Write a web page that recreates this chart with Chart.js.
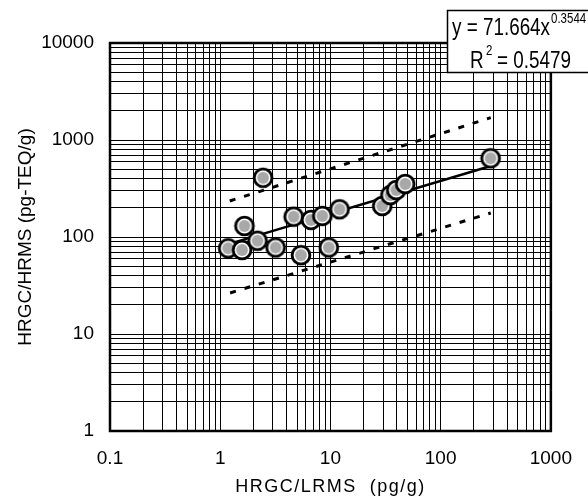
<!DOCTYPE html>
<html>
<head>
<meta charset="utf-8">
<script src="https://cdn.jsdelivr.net/npm/chart.js@4.4.0/dist/chart.umd.min.js"></script>
<style>
  html, body { margin: 0; padding: 0; background: #fff; }
</style>
</head>
<body>
<canvas id="chart" width="588" height="500"></canvas>
<script>
const xTickLabels = [0.1, 1, 10, 100, 1000];
const yTickLabels = [1, 10, 100, 1000, 10000];

// HRGC/LRMS (x) vs HRGC/HRMS (y)
const lrmsValues = [1.18, 1.58, 1.66, 2.18, 2.45, 3.18, 4.64, 5.4, 6.67, 8.44, 9.66, 12.1, 29.5, 35, 39.6, 47.7, 284];
const hrmsValues = [76.5, 73.5, 130, 91.6, 408, 78, 162, 65, 150, 165, 78, 193, 209, 271, 305, 352, 648];

// fit line and dotted band, end points
const fitX = [1.05, 285];
const fitY = [81, 540];
const upperX = [1.22, 285];
const upperY = [235, 1700];
const lowerX = [1.23, 285];
const lowerY = [26.5, 177];

const xTitle = 'HRGC/LRMS  (pg/g)';
const yTitle = 'HRGC/HRMS (pg-TEQ/g)';
const eqMain = 'y = 71.664x';
const eqExp = '0.3544';
const r2Value = '= 0.5479';

const FONT = '"Liberation Sans", Arial, sans-serif';

const toPoints = (xs, ys) => xs.map((x, i) => ({ x, y: ys[i] }));

// all 1..9 lines of every decade, for the log-paper grid
const gridValues = (decades) => {
  const out = [];
  decades.forEach((d, i) => {
    if (i === decades.length - 1) { out.push(d); return; }
    for (let m = 1; m <= 9; m++) out.push(parseFloat((d * m).toPrecision(6)));
  });
  return out;
};

const makeMarker = () => {
  const c = document.createElement('canvas');
  c.width = 24; c.height = 24;
  const g = c.getContext('2d');
  g.beginPath();
  g.arc(12, 12, 8.9, 0, Math.PI * 2);
  g.fillStyle = '#fff';
  g.fill();
  g.lineWidth = 2.9;
  g.strokeStyle = '#000';
  g.stroke();
  g.beginPath();
  g.arc(12, 12, 5.9, 0, Math.PI * 2);
  g.fillStyle = '#a8a8a8';
  g.fill();
  return c;
};

const drawNarrow = (ctx, text, x, y, size) => {
  ctx.save();
  ctx.translate(x, y);
  ctx.scale(0.82, 1);
  ctx.font = `${size}px ${FONT}`;
  ctx.fillText(text, 0, 0);
  const w = ctx.measureText(text).width * 0.82;
  ctx.restore();
  return w;
};

const decorations = {
  id: 'decorations',
  afterDatasetsDraw(chart) {
    const { ctx, chartArea: a } = chart;
    ctx.save();
    ctx.strokeStyle = '#000';
    ctx.lineWidth = 2.5;
    ctx.strokeRect(a.left, a.top, a.right - a.left, a.bottom - a.top);
    ctx.restore();
  },
  afterDraw(chart) {
    const { ctx, chartArea: a } = chart;
    ctx.save();
    ctx.fillStyle = '#000';
    ctx.textBaseline = 'middle';
    ctx.textAlign = 'center';
    ctx.font = `18px ${FONT}`;
    ctx.letterSpacing = '1.5px';
    ctx.fillText(xTitle, (a.left + a.right) / 2, 487);
    ctx.letterSpacing = '0px';

    // equation box
    ctx.fillStyle = '#fff';
    ctx.fillRect(447, 10, 150, 63);
    ctx.strokeStyle = '#000';
    ctx.lineWidth = 1.5;
    ctx.strokeRect(447.5, 10.5, 150, 62);
    ctx.fillStyle = '#000';
    ctx.textAlign = 'left';
    ctx.textBaseline = 'alphabetic';
    const w = drawNarrow(ctx, eqMain, 452, 35, 23);
    drawNarrow(ctx, eqExp, 452 + w + 1, 23, 14);
    drawNarrow(ctx, 'R', 470, 68, 23);
    drawNarrow(ctx, '2', 486, 55, 14);
    drawNarrow(ctx, r2Value, 497, 68, 23);
    ctx.restore();
  }
};

new Chart(document.getElementById('chart'), {
  type: 'scatter',
  data: {
    datasets: [
      {
        data: toPoints(lrmsValues, hrmsValues),
        pointStyle: makeMarker(),
        pointRadius: 12,
        order: 0
      },
      {
        data: toPoints(fitX, fitY),
        showLine: true,
        borderColor: '#000',
        borderWidth: 2.5,
        pointRadius: 0,
        order: 1
      },
      {
        data: toPoints(upperX, upperY),
        showLine: true,
        borderColor: '#000',
        borderWidth: 3,
        borderDash: [6, 9],
        pointRadius: 0,
        order: 1
      },
      {
        data: toPoints(lowerX, lowerY),
        showLine: true,
        borderColor: '#000',
        borderWidth: 3,
        borderDash: [6, 9],
        pointRadius: 0,
        order: 1
      }
    ]
  },
  options: {
    responsive: false,
    animation: false,
    layout: { padding: { top: 43, right: 30, left: 0, bottom: 0 } },
    plugins: { legend: { display: false }, tooltip: { enabled: false } },
    scales: {
      x: {
        type: 'logarithmic',
        min: 0.1,
        max: 1000,
        afterBuildTicks: s => { s.ticks = gridValues(xTickLabels).map(v => ({ value: v })); },
        afterFit: s => { s.height = 69; },
        grid: { color: '#000', lineWidth: 1, drawTicks: false },
        border: { display: false },
        ticks: {
          autoSkip: false,
          maxRotation: 0,
          padding: 16,
          color: '#000',
          font: { family: FONT, size: 19 },
          callback: v => xTickLabels.includes(v) ? String(v) : ''
        }
      },
      y: {
        type: 'logarithmic',
        min: 1,
        max: 10000,
        afterBuildTicks: s => { s.ticks = gridValues(yTickLabels).map(v => ({ value: v })); },
        afterFit: s => { s.width = 110; },
        grid: { color: '#000', lineWidth: 1, drawTicks: false },
        border: { display: false },
        ticks: {
          autoSkip: false,
          padding: 16,
          color: '#000',
          font: { family: FONT, size: 19 },
          callback: v => yTickLabels.includes(v) ? String(v) : ''
        },
        title: {
          display: true,
          text: yTitle,
          color: '#000',
          font: { family: FONT, size: 19 },
          padding: { top: 14, bottom: 0 }
        }
      }
    }
  },
  plugins: [decorations]
});
</script>
</body>
</html>
